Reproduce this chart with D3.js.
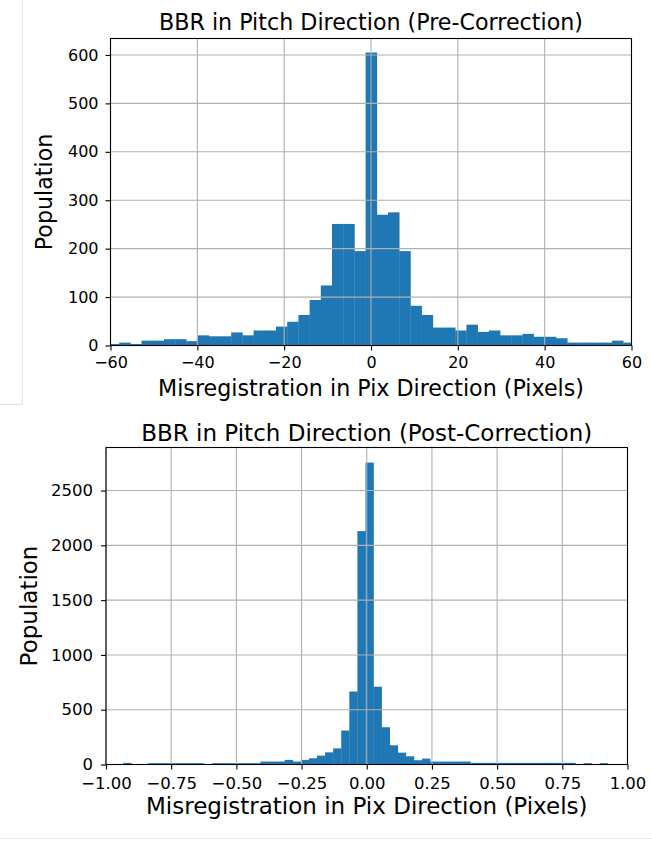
<!DOCTYPE html>
<html lang="en">
<head>
    <meta charset="UTF-8">
    <title>BBR in Pitch Direction</title>
    <script src="https://cdn.jsdelivr.net/npm/d3@7"></script>
    <style>
        body { margin: 0; background: #fff; }
        svg text { font-family: "DejaVu Sans", sans-serif; fill: #000; }
    </style>
</head>
<body>
    <div id="chart"></div>

    <script>
        // histogram before correction (bins of equal width)
        var preStart = -60.58;
        var preBinWidth = 2.58;
        var preCounts = [3, 6, 3, 10, 10, 13, 13, 9, 21, 19, 19, 27, 21, 31, 31, 39, 49, 63, 94, 124,
                         251, 251, 195, 605, 270, 275, 195, 82, 63, 37, 37, 31, 43, 28, 31, 21, 21, 24,
                         18, 18, 15, 6, 6, 6, 6, 10, 6];
        var preXTicks = [-60, -40, -20, 0, 20, 40, 60];
        var preYTicks = [0, 100, 200, 300, 400, 500, 600];

        // histogram after correction
        var postStart = -0.934;
        var postBinWidth = 0.03097;
        var postCounts = [15, 0, 0, 12, 12, 12, 12, 12, 12, 12, 0, 12, 12, 12, 12, 12, 12, 27, 27, 27,
                          42, 27, 42, 57, 81, 111, 147, 310, 666, 2130, 2755, 710, 340, 175, 108, 75, 39, 54, 27, 27,
                          27, 27, 27, 15, 15, 15, 15, 15, 15, 15, 15, 15, 15, 15, 15, 15, 0, 12, 0, 12];
        var postXTicks = [-1, -0.75, -0.5, -0.25, 0, 0.25, 0.5, 0.75, 1];
        var postYTicks = [0, 500, 1000, 1500, 2000, 2500];

        var svg = d3.select("#chart").append("svg")
            .attr("width", 652)
            .attr("height", 842);

        // screenshot borders
        svg.append("path")
            .attr("d", "M22.5,0V404.5H0")
            .attr("fill", "none")
            .attr("stroke", "#e2e2e2");
        svg.append("line")
            .attr("x1", 0).attr("x2", 652)
            .attr("y1", 838.5).attr("y2", 838.5)
            .attr("stroke", "#ececec");

        function drawHist(opt) {
            var g = svg.append("g");
            var x = d3.scaleLinear().domain(opt.xDomain).range([opt.left, opt.right]);
            var y = d3.scaleLinear().domain([0, opt.yMax]).range([opt.bottom, opt.top]);

            var bins = opt.counts.map(function(c, i) {
                return { x0: opt.start + i * opt.width, x1: opt.start + (i + 1) * opt.width, n: c };
            });

            var clipId = "clip" + opt.id;
            svg.append("clipPath").attr("id", clipId)
                .append("rect")
                .attr("x", opt.left).attr("y", opt.top)
                .attr("width", opt.right - opt.left).attr("height", opt.bottom - opt.top);

            g.append("g").attr("clip-path", "url(#" + clipId + ")")
                .selectAll("rect")
                .data(bins.filter(function(d) { return d.n > 0; }))
                .enter()
                .append("rect")
                .attr("x", function(d) { return x(d.x0); })
                .attr("width", function(d) { return x(d.x1) - x(d.x0) + 0.3; })
                .attr("y", function(d) { return y(d.n); })
                .attr("height", function(d) { return y(0) - y(d.n); })
                .attr("fill", "#1f77b4");

            // grid on top of the bars
            var grid = g.append("g").attr("stroke", "#b0b0b0").attr("stroke-width", 1.1);
            grid.selectAll(".gx").data(opt.xTicks).enter().append("line")
                .attr("x1", function(d) { return x(d); }).attr("x2", function(d) { return x(d); })
                .attr("y1", opt.top).attr("y2", opt.bottom);
            grid.selectAll(".gy").data(opt.yTicks).enter().append("line")
                .attr("y1", function(d) { return y(d); }).attr("y2", function(d) { return y(d); })
                .attr("x1", opt.left).attr("x2", opt.right);

            var xAxis = d3.axisBottom(x).tickValues(opt.xTicks).tickSize(5).tickPadding(opt.xPad)
                .tickFormat(opt.xFormat);
            var yAxis = d3.axisLeft(y).tickValues(opt.yTicks).tickSize(5).tickPadding(opt.yPad)
                .tickFormat(d3.format("d"));

            var gx = g.append("g").attr("transform", "translate(0," + opt.bottom + ")").call(xAxis);
            var gy = g.append("g").attr("transform", "translate(" + opt.left + ",0)").call(yAxis);
            [gx, gy].forEach(function(a) {
                a.select(".domain").remove();
                a.selectAll("line").attr("stroke", "#000").attr("stroke-width", 1.1);
                a.selectAll("text").attr("font-size", opt.tickSize + "px")
                    .attr("font-family", "DejaVu Sans");
            });

            // frame
            g.append("rect")
                .attr("x", opt.left).attr("y", opt.top)
                .attr("width", opt.right - opt.left).attr("height", opt.bottom - opt.top)
                .attr("fill", "none").attr("stroke", "#000").attr("stroke-width", 1.1);

            g.append("text")
                .attr("x", (opt.left + opt.right) / 2).attr("y", opt.titleY)
                .attr("text-anchor", "middle").attr("font-size", opt.labelSize + "px")
                .text(opt.title);
            g.append("text")
                .attr("x", (opt.left + opt.right) / 2).attr("y", opt.xLabelY)
                .attr("text-anchor", "middle").attr("font-size", opt.labelSize + "px")
                .text("Misregistration in Pix Direction (Pixels)");
            g.append("text")
                .attr("transform", "translate(" + opt.yLabelX + "," + (opt.top + opt.bottom) / 2 + ") rotate(-90)")
                .attr("text-anchor", "middle").attr("font-size", opt.labelSize + "px")
                .text("Population");
        }

        drawHist({
            id: "pre", start: preStart, width: preBinWidth, counts: preCounts,
            xDomain: [-60, 60], yMax: 634, xTicks: preXTicks, yTicks: preYTicks,
            xFormat: d3.format("d"), xPad: 6, yPad: 7,
            left: 110.5, right: 631.5, top: 38.5, bottom: 345.5,
            title: "BBR in Pitch Direction (Pre-Correction)",
            titleY: 30, xLabelY: 396, yLabelX: 52, tickSize: 16, labelSize: 22.2
        });

        drawHist({
            id: "post", start: postStart, width: postBinWidth, counts: postCounts,
            xDomain: [-1, 1], yMax: 2893, xTicks: postXTicks, yTicks: postYTicks,
            xFormat: d3.format(".2f"), xPad: 8, yPad: 8,
            left: 106, right: 627.5, top: 447.5, bottom: 764.5,
            title: "BBR in Pitch Direction (Post-Correction)",
            titleY: 441, xLabelY: 814, yLabelX: 37, tickSize: 16.5, labelSize: 23
        });
    </script>
</body>
</html>
